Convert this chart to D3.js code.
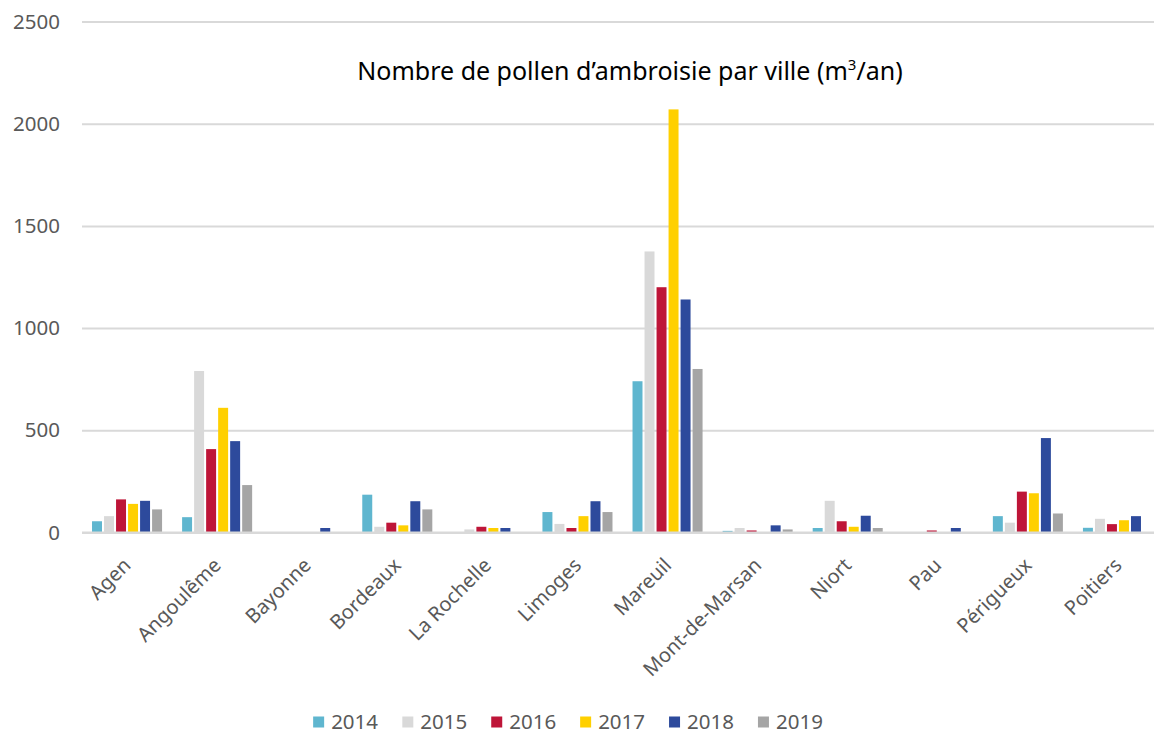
<!DOCTYPE html>
<html>
<head>
<meta charset="utf-8">
<script src="https://cdn.jsdelivr.net/npm/d3@7"></script>
<style>
  html, body { margin: 0; padding: 0; background: #fff; }
  svg { display: block; }
  svg text { font-family: "Noto Sans", "Open Sans", sans-serif; }
</style>
</head>
<body>
<svg id="chart" width="1154" height="734"></svg>
<script>
// Cities on the x axis
const cities = ["Agen", "Angoulême", "Bayonne", "Bordeaux", "La Rochelle", "Limoges",
  "Mareuil", "Mont-de-Marsan", "Niort", "Pau", "Périgueux", "Poitiers"];

// Years (one bar per year in each city group)
const years = ["2014", "2015", "2016", "2017", "2018", "2019"];

// Annual ragweed pollen counts per city, one array per year
const v2014 = [55, 75, 0, 185, 0, 100, 740, 8, 22, 0, 80, 23];
const v2015 = [80, 790, 0, 28, 15, 42, 1375, 22, 155, 0, 48, 67];
const v2016 = [162, 408, 0, 48, 28, 22, 1200, 10, 55, 10, 200, 41];
const v2017 = [140, 610, 0, 35, 22, 80, 2070, 0, 28, 0, 192, 60];
const v2018 = [155, 447, 22, 153, 22, 153, 1140, 35, 82, 22, 462, 80];
const v2019 = [113, 232, 0, 113, 0, 100, 800, 15, 22, 0, 93, 0];

const yTicks = [0, 500, 1000, 1500, 2000, 2500];
const colors = ["#5fb6cf", "#d9d9d9", "#be1538", "#ffd000", "#2d4a9c", "#a5a5a5"];

const seriesValues = [v2014, v2015, v2016, v2017, v2018, v2019];
const rows = cities.map((c, i) => ({
  city: c,
  values: years.map((y, k) => ({ year: y, value: seriesValues[k][i] }))
}));

const W = 1154;
const svg = d3.select("#chart");
const plot = { left: 82, right: 1163, top: 21.5, bottom: 532.5 };

// One band per city; bars sit in the middle of each band
const x = d3.scaleBand().domain(cities).range([plot.left, plot.right]).padding(0);
const xi = d3.scaleBand().domain(years).range([9, x.bandwidth() - 9]).paddingInner(0.17).paddingOuter(0.085);
const y = d3.scaleLinear().domain([0, 2500]).range([plot.bottom, plot.top]);
const color = d3.scaleOrdinal().domain(years).range(colors);

// Horizontal gridlines with tick labels
const yAxis = d3.axisLeft(y).tickValues(yTicks).tickFormat(d3.format("d"))
  .tickSize(-(W - plot.left)).tickPadding(22);
const gy = svg.append("g").attr("transform", `translate(${plot.left},0)`).call(yAxis)
  .attr("font-family", null).attr("font-size", null);
gy.select(".domain").remove();
gy.selectAll(".tick line").attr("stroke", "#d9d9d9").attr("stroke-width", 2);
gy.selectAll(".tick text").attr("fill", "#595959").style("font-size", "20.5px");

// Grouped bars
const groups = svg.append("g").selectAll("g").data(rows).join("g")
  .attr("transform", d => `translate(${x(d.city)},0)`);
groups.selectAll("rect").data(d => d.values).join("rect")
  .attr("x", d => xi(d.year))
  .attr("width", xi.bandwidth())
  .attr("y", d => y(d.value))
  .attr("height", d => y(0) - y(d.value))
  .attr("fill", d => color(d.year));

// Baseline redrawn over the bars
svg.append("line")
  .attr("x1", plot.left).attr("x2", W)
  .attr("y1", y(0)).attr("y2", y(0))
  .attr("stroke", "#d9d9d9").attr("stroke-width", 2);

// Category labels rotated 45°
const xAxis = d3.axisBottom(x).tickSize(0).tickPadding(0);
const gx = svg.append("g").attr("transform", `translate(0,${plot.bottom})`).call(xAxis)
  .attr("font-family", null).attr("font-size", null);
gx.select(".domain").remove();
gx.selectAll(".tick text")
  .attr("fill", "#595959").style("font-size", "20px")
  .attr("text-anchor", "end")
  .attr("dy", 0).attr("y", 0)
  .attr("transform", "translate(5,34) rotate(-45)");

// Title
const title = svg.append("text")
  .attr("x", 630).attr("y", 80)
  .attr("text-anchor", "middle")
  .style("font-size", "25px").attr("fill", "#000");
title.append("tspan").text("Nombre de pollen d’ambroisie par ville (m");
title.append("tspan").text("3").style("font-size", "15px").attr("dy", -10);
title.append("tspan").text("/an)").attr("dy", 10);

// Legend
const legend = svg.append("g").attr("transform", "translate(0,722)");
const items = legend.selectAll("g").data(years).join("g");
items.append("rect").attr("width", 11).attr("height", 11).attr("y", -5.5)
  .attr("fill", d => color(d));
items.append("text").attr("x", 18).attr("dy", "0.36em")
  .style("font-size", "20.5px").attr("fill", "#595959").text(d => d);
const gap = 24;
const widths = [];
items.each(function () { widths.push(this.getBBox().width); });
const total = d3.sum(widths) + gap * (widths.length - 1);
let cx = 568 - total / 2;
items.attr("transform", (d, i) => {
  const t = `translate(${cx},0)`;
  cx += widths[i] + gap;
  return t;
});
</script>
</body>
</html>
